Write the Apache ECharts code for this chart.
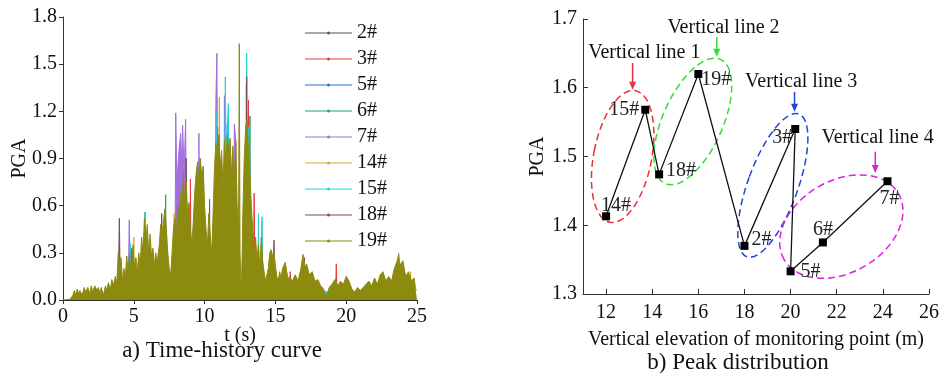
<!DOCTYPE html>
<html>
<head>
<meta charset="utf-8">
<script src="https://cdn.jsdelivr.net/npm/echarts@6/dist/echarts.min.js"></script>
<style>
  html, body { margin: 0; padding: 0; background: #fff; }
  #main { width: 944px; height: 373px; }
</style>
</head>
<body>
<div id="main"></div>
<script>
  // ---- a) time-history curve, [t (s), PGA] ----
  const seriesNames = ['2#', '3#', '5#', '6#', '7#', '14#', '15#', '18#', '19#'];
  const seriesColors = ['#555555', '#e8383d', '#2a6fd8', '#21a366', '#a070e0', '#e0a526', '#22d3dc', '#7b4b5a', '#8c8a0f'];

  const s2 = [[10.0,0.05],[10.88,0.05],[10.92,1.1],[10.96,0.05],[12.9,0.05],[12.95,1.37],[13.0,0.05]];
  const s3 = [[8.95,0.05],[9.0,0.77],[9.05,0.05],[12.15,0.05],[12.2,1.02],[12.25,0.05],[13.05,0.05],[13.1,1.27],[13.15,0.05],[13.45,0.05],[13.5,0.68],[13.55,0.05],[16.0,0.05],[16.05,0.18],[16.1,0.05],[19.25,0.05],[19.3,0.23],[19.35,0.05]];
  const s5 = [[4.8,0.05],[4.85,0.33],[4.9,0.05],[11.55,0.05],[11.6,1.12],[11.65,0.05]];
  const s6 = [[5.75,0.05],[5.8,0.56],[5.85,0.05],[7.2,0.05],[7.25,0.67],[7.3,0.05],[9.6,0.05],[9.65,0.9],[9.7,0.05],[13.15,0.05],[13.2,1.17],[13.25,0.05]];
  const s7 = [[4.6,0.05],[4.68,0.51],[4.76,0.05],[7.9,0.05],[7.96,1.19],[8.05,0.75],[8.15,0.9],[8.22,0.98],[8.31,1.06],[8.38,0.85],[8.45,1.11],[8.55,0.8],[8.66,1.15],[8.75,0.05],[9.55,0.05],[9.6,1.06],[9.65,0.05],[10.75,0.05],[10.8,1.29],[10.87,1.57],[10.95,0.05],[11.35,0.05],[11.4,1.3],[11.45,0.05],[12.05,0.05],[12.1,1.12],[12.17,1.05],[12.25,0.05]];
  const s14 = [[4.95,0.05],[5.0,0.4],[5.05,0.05],[7.8,0.05],[7.85,0.55],[7.9,0.05],[11.0,0.05],[11.04,1.29],[11.08,0.05],[14.0,0.05],[14.05,0.5],[14.1,0.05],[24.5,0.05],[24.55,0.18],[24.6,0.05]];
  const s15 = [[4.72,0.05],[4.75,0.36],[4.78,0.05],[5.75,0.05],[5.8,0.56],[5.85,0.05],[8.6,0.05],[8.65,0.78],[8.7,0.05],[9.85,0.05],[9.9,0.85],[9.95,0.05],[10.75,0.05],[10.8,1.21],[10.85,0.05],[11.42,0.05],[11.46,1.42],[11.52,0.9],[11.6,0.9],[11.68,1.25],[11.74,0.05],[12.92,0.05],[12.97,1.57],[13.03,0.9],[13.1,1.1],[13.15,0.05],[13.75,0.05],[13.8,0.55],[13.85,0.05],[14.0,0.05],[14.05,0.53],[14.1,0.05],[23.65,0.05],[23.7,0.3],[23.75,0.05]];
  const s18 = [[3.9,0.05],[3.98,0.52],[4.05,0.05],[6.9,0.05],[6.97,0.55],[7.04,0.05],[8.65,0.05],[8.7,0.9],[8.75,0.05],[10.3,0.05],[10.35,0.64],[10.4,0.05],[10.95,0.05],[11.0,1.05],[11.05,0.05],[12.92,0.05],[12.97,1.42],[13.02,0.05],[14.85,0.05],[14.9,0.38],[14.95,0.05],[17.0,0.05],[17.05,0.27],[17.1,0.05]];
  const s19 = [[0,0],[0.5,0.005],[0.7,0.03],[0.8,0.06],[0.9,0.03],[1.0,0.07],[1.1,0.04],[1.2,0.06],[1.35,0.03],[1.5,0.08],[1.6,0.05],[1.75,0.08],[1.9,0.04],[2.0,0.09],[2.1,0.05],[2.25,0.09],[2.4,0.06],[2.5,0.08],[2.6,0.04],[2.7,0.08],[2.85,0.03],[3.0,0.09],[3.1,0.06],[3.2,0.11],[3.35,0.07],[3.45,0.13],[3.55,0.09],[3.7,0.15],[3.8,0.1],[3.9,0.3],[4.0,0.22],[4.1,0.27],[4.2,0.12],[4.3,0.2],[4.4,0.14],[4.5,0.28],[4.6,0.18],[4.7,0.3],[4.8,0.15],[4.95,0.35],[5.05,0.2],[5.15,0.27],[5.25,0.17],[5.35,0.3],[5.45,0.22],[5.55,0.4],[5.65,0.3],[5.75,0.52],[5.85,0.38],[5.95,0.48],[6.05,0.3],[6.15,0.42],[6.25,0.28],[6.35,0.33],[6.45,0.22],[6.55,0.3],[6.65,0.24],[6.8,0.35],[6.9,0.48],[7.0,0.42],[7.1,0.5],[7.2,0.58],[7.3,0.45],[7.4,0.3],[7.5,0.2],[7.6,0.15],[7.7,0.3],[7.8,0.45],[7.9,0.52],[8.0,0.4],[8.1,0.6],[8.2,0.5],[8.3,0.68],[8.4,0.55],[8.5,0.82],[8.6,0.6],[8.7,0.75],[8.8,0.55],[8.9,0.62],[9.0,0.45],[9.1,0.35],[9.2,0.5],[9.3,0.68],[9.4,0.8],[9.5,0.88],[9.6,0.75],[9.7,0.9],[9.8,0.78],[9.9,0.85],[10.0,0.6],[10.1,0.45],[10.2,0.35],[10.3,0.55],[10.4,0.4],[10.5,0.3],[10.6,0.55],[10.7,0.85],[10.8,1.0],[10.9,0.9],[11.0,1.05],[11.1,0.85],[11.2,0.95],[11.3,0.7],[11.4,1.02],[11.5,0.85],[11.6,1.05],[11.7,0.95],[11.8,1.03],[11.9,0.8],[12.0,0.98],[12.1,0.75],[12.2,1.0],[12.3,0.6],[12.4,0.45],[12.45,1.63],[12.5,0.3],[12.6,0.02],[12.7,0.55],[12.8,0.9],[12.9,1.1],[13.0,1.15],[13.1,0.95],[13.2,0.8],[13.3,0.6],[13.4,0.45],[13.5,0.3],[13.6,0.4],[13.7,0.25],[13.8,0.35],[13.9,0.2],[14.0,0.4],[14.1,0.25],[14.2,0.18],[14.3,0.12],[14.5,0.2],[14.6,0.3],[14.7,0.32],[14.8,0.28],[14.9,0.3],[15.0,0.22],[15.1,0.15],[15.2,0.12],[15.3,0.18],[15.4,0.14],[15.5,0.2],[15.6,0.22],[15.7,0.24],[15.8,0.18],[15.9,0.13],[16.0,0.15],[16.2,0.12],[16.4,0.16],[16.6,0.12],[16.8,0.2],[16.95,0.29],[17.1,0.2],[17.2,0.23],[17.4,0.16],[17.6,0.18],[17.8,0.12],[18.0,0.13],[18.2,0.09],[18.4,0.07],[18.6,0.02],[18.8,0.08],[19.0,0.1],[19.2,0.13],[19.4,0.09],[19.6,0.12],[19.8,0.1],[20.0,0.15],[20.2,0.12],[20.4,0.07],[20.6,0.05],[20.8,0.08],[21.0,0.06],[21.2,0.08],[21.4,0.1],[21.6,0.12],[21.8,0.09],[22.0,0.14],[22.2,0.1],[22.4,0.16],[22.6,0.18],[22.8,0.12],[23.0,0.15],[23.2,0.12],[23.4,0.2],[23.6,0.25],[23.7,0.29],[23.8,0.22],[24.0,0.25],[24.2,0.15],[24.4,0.18],[24.6,0.12],[24.8,0.14],[24.9,0.07],[25.0,0.06]];
  const timeData = [s2, s3, s5, s6, s7, s14, s15, s18, s19];

  // ---- b) peak distribution ----
  const peakNames = ['14#', '15#', '18#', '19#', '2#', '3#', '5#', '6#', '7#'];
  const peakX = [12.0, 13.7, 14.3, 16.0, 18.0, 20.2, 20.0, 21.4, 24.2];
  const peakY = [1.413, 1.568, 1.474, 1.620, 1.370, 1.540, 1.333, 1.375, 1.464];
  const elevTicks = [12, 14, 16, 18, 20, 22, 24, 26];
  const groupNames = ['Vertical line 1', 'Vertical line 2', 'Vertical line 3', 'Vertical line 4'];

  const FONT = '"Liberation Serif", "Times New Roman", serif';

  // label placement for each peak point
  const peakLabelPos = [
    { position: 'top', offset: [10, 5], distance: 2 },
    { position: 'left', distance: 2 },
    { position: 'right', offset: [0, -4], distance: 3 },
    { position: 'right', offset: [-2, 6], distance: 1 },
    { position: 'right', offset: [0, -6], distance: 3 },
    { position: 'left', offset: [2, 9], distance: 1 },
    { position: 'right', distance: 6 },
    { position: 'top', offset: [0, 3], distance: 2 },
    { position: 'bottom', offset: [2, 0], distance: 3 }
  ];

  // groups: ellipse centre in data coords, semi-axes px, rotation deg; arrow x, arrow top/bottom, caption centre
  const groups = [
    { color: '#e8333a', c: [12.72, 1.500], rx: 29, ry: 67, rot: -11, ax: 13.15, ay: [1.636, 1.597], lx: 13.66, ly: 1.651 },
    { color: '#33dd33', c: [15.76, 1.551], rx: 30, ry: 68, rot: -24, ax: 16.8, ay: [1.674, 1.645], lx: 17.09, ly: 1.688 },
    { color: '#2244dd', c: [19.23, 1.458], rx: 25, ry: 76, rot: -20, ax: 20.17, ay: [1.594, 1.565], lx: 20.46, ly: 1.609 },
    { color: '#e020e0', c: [22.2, 1.398], rx: 66, ry: 46, rot: 30, ax: 23.67, ay: [1.507, 1.476], lx: 23.77, ly: 1.527 }
  ];

  const chart = echarts.init(document.getElementById('main'));

  const axisLineStyle = { color: '#333', width: 1 };
  const labelText = { color: '#111', fontSize: 20, fontFamily: FONT };

  const timeSeries = timeData.map(function (d, i) {
    return {
      name: seriesNames[i],
      type: 'line',
      xAxisIndex: 0,
      yAxisIndex: 0,
      data: d,
      showSymbol: false,
      symbol: 'none',
      color: seriesColors[i],
      lineStyle: { width: 1, color: seriesColors[i] },
      areaStyle: { color: seriesColors[i], opacity: 1 },
      z: 2 + i * 0.01
    };
  });

  const peakSeries = {
    name: 'peak',
    type: 'line',
    xAxisIndex: 1,
    yAxisIndex: 1,
    symbol: 'rect',
    symbolSize: 8,
    color: '#000',
    lineStyle: { color: '#111', width: 1.3 },
    data: peakX.map(function (x, i) {
      return {
        name: peakNames[i],
        value: [x, peakY[i]],
        label: Object.assign({ show: true, formatter: '{b}', color: '#222', fontSize: 20, fontFamily: FONT }, peakLabelPos[i])
      };
    }),
    z: 5
  };

  const option = {
    animation: false,
    backgroundColor: '#fff',
    textStyle: { fontFamily: FONT },
    title: [
      { text: 'a) Time-history curve', left: 217, top: 334, textAlign: 'center',
        textStyle: { fontSize: 23, fontWeight: 'normal', color: '#111', fontFamily: FONT } },
      { text: 'b) Peak distribution', left: 733, top: 346, textAlign: 'center',
        textStyle: { fontSize: 23, fontWeight: 'normal', color: '#111', fontFamily: FONT } }
    ],
    legend: {
      data: seriesNames,
      orient: 'vertical',
      left: 305,
      top: 23,
      padding: 0,
      icon: 'path://M0,3.9 H47 V5.1 H0 Z M22,4.5 A1.5,1.5 0 1 1 25,4.5 A1.5,1.5 0 1 1 22,4.5 Z',
      itemWidth: 47,
      itemHeight: 3,
      itemGap: 6,
      textStyle: { color: '#111', fontSize: 20, fontFamily: FONT, lineHeight: 20 }
    },
    grid: [
      { left: 63, top: 17, width: 354, height: 283 },
      { left: 583, top: 19, width: 346, height: 275 }
    ],
    xAxis: [
      {
        type: 'value', gridIndex: 0, min: 0, max: 25, interval: 5,
        name: 't (s)', nameLocation: 'middle', nameGap: 26, nameMoveOverlap: false,
        nameTextStyle: labelText,
        axisLine: { show: true, lineStyle: axisLineStyle },
        axisTick: { show: true, inside: false, length: 4, lineStyle: axisLineStyle },
        axisLabel: Object.assign({ margin: 7 }, labelText),
        splitLine: { show: false }
      },
      {
        type: 'value', gridIndex: 1, min: 11, max: 26,
        name: 'Vertical elevation of monitoring point (m)', nameLocation: 'middle', nameGap: 36, nameMoveOverlap: false,
        nameTextStyle: labelText,
        axisLine: { show: true, lineStyle: axisLineStyle },
        axisTick: { show: true, inside: true, length: 5, customValues: elevTicks, lineStyle: axisLineStyle },
        axisLabel: Object.assign({ margin: 9, customValues: elevTicks }, labelText),
        splitLine: { show: false }
      }
    ],
    yAxis: [
      {
        type: 'value', gridIndex: 0, min: 0, max: 1.8, interval: 0.3,
        name: 'PGA', nameLocation: 'middle', nameGap: 33, nameMoveOverlap: false,
        nameTextStyle: labelText,
        axisLine: { show: true, lineStyle: axisLineStyle },
        axisTick: { show: true, inside: false, length: 4, lineStyle: axisLineStyle },
        axisLabel: Object.assign({ margin: 6, formatter: function (v) { return v.toFixed(1); } }, labelText),
        splitLine: { show: false }
      },
      {
        type: 'value', gridIndex: 1, min: 1.3, max: 1.7, interval: 0.1,
        name: 'PGA', nameLocation: 'middle', nameGap: 35, nameMoveOverlap: false,
        nameTextStyle: labelText,
        axisLine: { show: true, lineStyle: axisLineStyle },
        axisTick: { show: true, inside: true, length: 5, lineStyle: axisLineStyle },
        axisLabel: Object.assign({ margin: 6, formatter: function (v) { return v.toFixed(1); } }, labelText),
        splitLine: { show: false }
      }
    ],
    series: timeSeries.concat([peakSeries])
  };

  chart.setOption(option);

  // ellipses, arrows and group captions placed through the right-hand grid
  function px(p) { return chart.convertToPixel({ gridIndex: 1 }, p); }
  const graphics = [];
  groups.forEach(function (g, i) {
    const c = px(g.c);
    graphics.push({
      type: 'ellipse', x: c[0], y: c[1], rotation: g.rot * Math.PI / 180,
      shape: { cx: 0, cy: 0, rx: g.rx, ry: g.ry },
      style: { fill: null, stroke: g.color, lineWidth: 1.5, lineDash: [7, 4] },
      z: 3
    });
    const a0 = px([g.ax, g.ay[0]]);
    const a1 = px([g.ax, g.ay[1]]);
    graphics.push({
      type: 'line', shape: { x1: a0[0], y1: a0[1], x2: a1[0], y2: a1[1] - 6 },
      style: { stroke: g.color, lineWidth: 1.5 }, z: 4
    });
    graphics.push({
      type: 'polygon', shape: { points: [[a1[0] - 3.5, a1[1] - 8], [a1[0] + 3.5, a1[1] - 8], [a1[0], a1[1]]] },
      style: { fill: g.color }, z: 4
    });
    const l = px([g.lx, g.ly]);
    graphics.push({
      type: 'text', x: l[0], y: l[1],
      style: { text: groupNames[i], fill: '#111', font: '20px ' + FONT, textAlign: 'center', textVerticalAlign: 'middle' },
      z: 4
    });
  });
  chart.setOption({ graphic: graphics });
</script>
</body>
</html>
